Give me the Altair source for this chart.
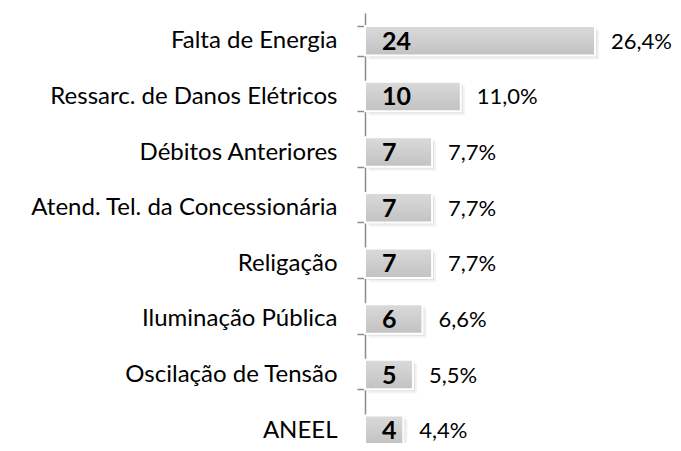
import altair as alt
import pandas as pd

categories = [
    "Falta de Energia",
    "Ressarc. de Danos Elétricos",
    "Débitos Anteriores",
    "Atend. Tel. da Concessionária",
    "Religação",
    "Iluminação Pública",
    "Oscilação de Tensão",
    "ANEEL",
]
counts = [24, 10, 7, 7, 7, 6, 5, 4]
percents = ["26,4%", "11,0%", "7,7%", "7,7%", "7,7%", "6,6%", "5,5%", "4,4%"]

df = pd.DataFrame({"cat": categories, "n": counts, "pct": percents})

FONT = "Lato"

y = alt.Y(
    "cat:N",
    sort=categories,
    scale=alt.Scale(range=[0, 445], paddingInner=0.47, paddingOuter=0.235),
    axis=alt.Axis(
        title=None,
        tickBand="extent",
        tickSize=8,
        tickColor="#8c8c8c",
        domainColor="#8c8c8c",
        tickWidth=1.5,
        domainWidth=1.5,
        labelFont=FONT,
        labelFontSize=24,
        labelColor="#000000",
        labelPadding=20,
        labelLimit=400,
        grid=False,
    ),
)
x = alt.X(
    "n:Q",
    scale=alt.Scale(domain=[0, 24], nice=False),
    axis=None,
)

base = alt.Chart(df)

shadow2 = base.mark_bar(
    color="#000000", opacity=0.05, xOffset=4, yOffset=4, x2Offset=4
).encode(x=x, y=y)
shadow1 = base.mark_bar(
    color="#000000", opacity=0.07, xOffset=2, yOffset=2, x2Offset=2
).encode(x=x, y=y)

bars = base.mark_bar(
    color=alt.Gradient(
        gradient="linear",
        x1=0, y1=0, x2=0, y2=1,
        stops=[
            alt.GradientStop(offset=0, color="#dadada"),
            alt.GradientStop(offset=1, color="#c2c2c2"),
        ],
    ),
    stroke="#ffffff",
    strokeWidth=2,
).encode(x=x, y=y)

nums = base.mark_text(
    align="left", baseline="middle", dy=1, font=FONT, fontSize=25,
    fontWeight="bold", color="#000000",
).encode(x=alt.value(17), y=y, text="n:Q")

pcts = base.mark_text(
    align="left", baseline="middle", dx=16, dy=1, font=FONT, fontSize=22,
    color="#000000",
).encode(x=x, y=y, text="pct:N")

chart = (
    alt.layer(shadow2, shadow1, bars, nums, pcts)
    .properties(
        width=230,
        height=430,
        autosize=alt.AutoSizeParams(type="none"),
        padding={"left": 357, "top": 5, "right": 78, "bottom": 0},
        view=alt.ViewBackground(strokeOpacity=0, strokeWidth=0),
    )
    .configure_view(strokeWidth=0, strokeOpacity=0)
    .configure(background="#ffffff")
)

chart.save("out.html", embed_options={"renderer": "svg", "actions": False})
